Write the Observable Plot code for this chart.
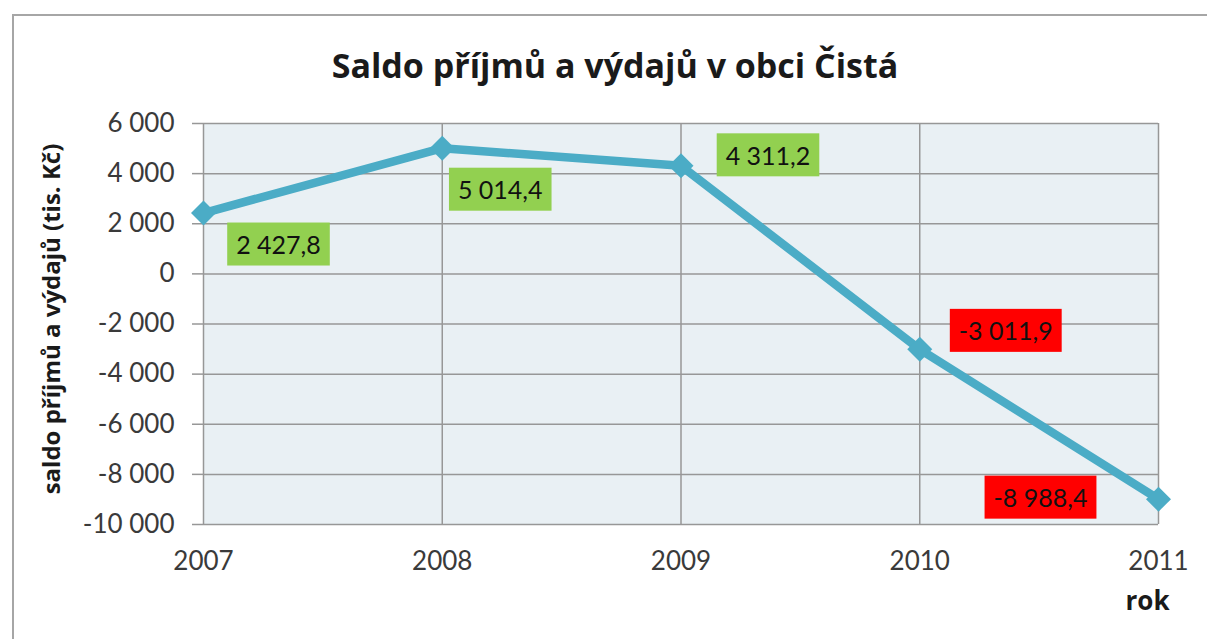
<!DOCTYPE html>
<html><head><meta charset="utf-8">
<script src="https://cdn.jsdelivr.net/npm/d3@7"></script>
<script src="https://cdn.jsdelivr.net/npm/@observablehq/plot@0.6"></script>
<style>
body{margin:0;background:#fff;}
#wrap{position:relative;width:1207px;height:639px;overflow:hidden;font-family:Lato,sans-serif;}
#frame{position:absolute;left:12px;top:14px;width:1300px;height:700px;border-left:2px solid #a6a6a6;border-top:2px solid #a6a6a6;}
#chart{position:absolute;left:0;top:0;}
#title{position:absolute;left:215px;width:800px;top:42px;text-align:center;font-family:"Open Sans",sans-serif;font-weight:bold;font-size:34px;color:#1a1a1a;white-space:nowrap;}
</style></head>
<body><div id="wrap"><div id="frame"></div><div id="chart"></div><div id="title"></div></div>
<script>
const titleText = "Saldo příjmů a výdajů v obci Čistá";
const yLabel = "saldo příjmů a výdajů (tis. Kč)";
const xLabel = "rok";
const years = [2007, 2008, 2009, 2010, 2011];
const saldo = [2427.8, 5014.4, 4311.2, -3011.9, -8988.4];
const yTicks = [6000, 4000, 2000, 0, -2000, -4000, -6000, -8000, -10000];

document.getElementById("title").textContent = titleText;

const loc = d3.formatLocale({decimal: ",", thousands: "\u00a0", grouping: [3], currency: ["", ""], minus: "-"});
const fmtTick = loc.format(",.0f");
const fmtLabel = loc.format(",.1f");
const data = years.map((y, i) => ({year: y, value: saldo[i]}));

// label placement relative to its point (layout only)
const labelOffsets = [[75, 33], [58, 43], [87, -9], [86, -17], [-118, 0]];

const diamond = {
  draw(ctx, size) {
    const h = Math.sqrt(size / Math.PI);
    ctx.moveTo(0, -h); ctx.lineTo(h, 0); ctx.lineTo(0, h); ctx.lineTo(-h, 0); ctx.closePath();
  }
};

const gridStyle = {stroke: "#979797", strokeOpacity: 1, strokeWidth: 1.5};

const plot = Plot.plot({
  width: 1207, height: 639,
  marginLeft: 203, marginRight: 49, marginTop: 123, marginBottom: 115,
  style: {fontFamily: "Lato, sans-serif", fontSize: "26px", color: "#3a3a3a", background: "transparent", overflow: "visible"},
  x: {domain: [2007, 2011], label: null},
  y: {domain: [-10000, 6000], label: null},
  marks: [
    Plot.frame({fill: "#e9f0f4", stroke: null}),
    Plot.gridX(years, gridStyle),
    Plot.gridY(yTicks, gridStyle),
    Plot.axisX(years, {tickSize: 0, tickPadding: 27, tickFormat: d => String(d), label: null, fontSize: 26}),
    Plot.axisY(yTicks, {tickSize: 11, tickPadding: 18, tickFormat: fmtTick, label: null, stroke: "#979797", strokeWidth: 1.5, fontSize: 26}),
    Plot.line(data, {x: "year", y: "value", stroke: "#4bacc6", strokeWidth: 8.5}),
    Plot.dot(data, {x: "year", y: "value", symbol: diamond, r: 12.5, fill: "#4bacc6", stroke: null}),
    ...data.map((d, i) => Plot.text([d], {
      x: "year", y: "value", text: v => fmtLabel(v.value),
      dx: labelOffsets[i][0], dy: labelOffsets[i][1],
      fill: "#111", fontSize: 25
    })),
    Plot.text([yLabel], {frameAnchor: "left", rotate: -90, textAnchor: "middle", dx: -151, dy: -5, fontWeight: "bold", fontSize: 24, fontFamily: "Open Sans, sans-serif", fill: "#1a1a1a"}),
    Plot.text([xLabel], {frameAnchor: "bottom-right", textAnchor: "middle", dx: -11, dy: 85, fontWeight: "bold", fontSize: 26, fontFamily: "Open Sans, sans-serif", fill: "#1a1a1a"})
  ]
});
document.getElementById("chart").appendChild(plot);

// background boxes behind data labels
const labelTexts = saldo.map(v => fmtLabel(v));
d3.select(plot).selectAll("text").each(function() {
  const k = labelTexts.indexOf(this.textContent);
  if (k < 0) return;
  const bb = this.getBBox();
  const cx = bb.x + bb.width / 2, cy = bb.y + bb.height / 2;
  const w = bb.width + 18, h = 43;
  d3.select(this.parentNode).insert("rect", () => this)
    .attr("x", cx - w / 2).attr("y", cy - h / 2).attr("width", w).attr("height", h)
    .attr("transform", this.getAttribute("transform"))
    .attr("fill", saldo[k] >= 0 ? "#92d050" : "#ff0000");
});
</script>
</body></html>
